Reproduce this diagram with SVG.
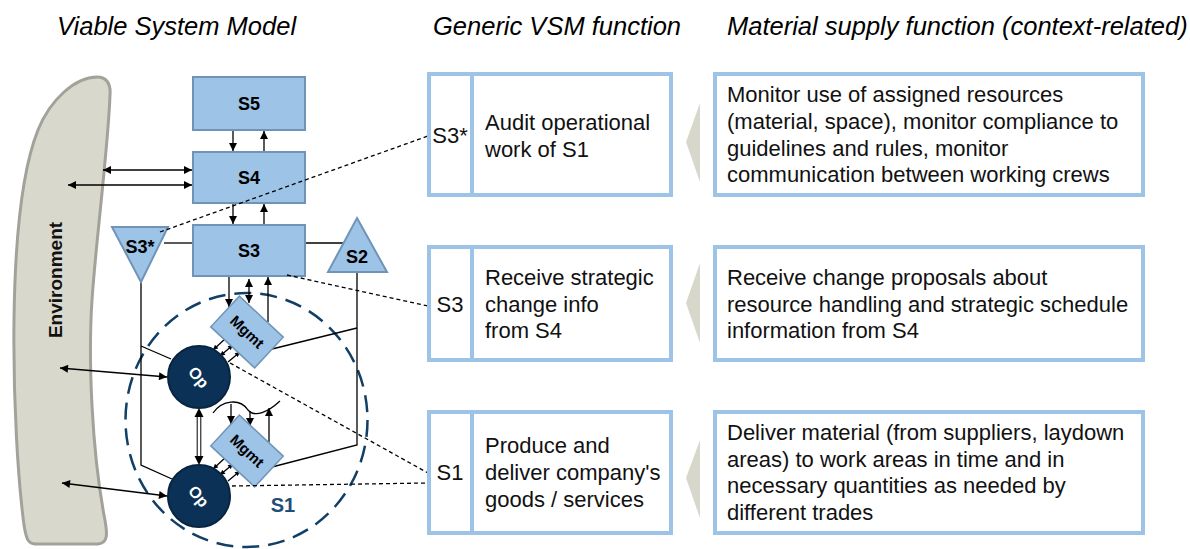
<svg xmlns="http://www.w3.org/2000/svg" width="1190" height="549" viewBox="0 0 1190 549">
<style>
.title{font-family:"Liberation Sans",Arial,sans-serif;font-style:italic;font-size:25.5px;fill:#000}
.txt{font-family:"Liberation Sans",Arial,sans-serif;font-size:22px;fill:#111}
.sbox{fill:#9dc3e6;stroke:#6f94b8;stroke-width:2}
.slab{font-family:"Liberation Sans",Arial,sans-serif;font-weight:bold;font-size:18px;fill:#000;text-anchor:middle}
.op{fill:#0b3256;stroke:#082540;stroke-width:2}
.optxt{font-family:"Liberation Sans",Arial,sans-serif;font-weight:bold;font-size:16px;fill:#fff;text-anchor:middle}
.mg{fill:#9dc3e6;stroke:#6f94b8;stroke-width:1.5}
.mgtxt{font-family:"Liberation Sans",Arial,sans-serif;font-weight:bold;font-size:15px;fill:#000;text-anchor:middle}
.fbox{fill:#fff;stroke:#9dc3e6;stroke-width:4}
.chev{fill:#d8d7cb}
.ln{stroke:#000;stroke-width:1.3;fill:none}
.thin{stroke:#000;stroke-width:1;fill:none}
.dash{stroke:#000;stroke-width:1.3;fill:none;stroke-dasharray:4 3}
.head{fill:#000}
</style>
<defs>
<marker id="ah" viewBox="0 0 10 10" refX="10" refY="5" markerWidth="9" markerHeight="8" orient="auto-start-reverse" markerUnits="userSpaceOnUse"><path d="M0,0 L10,5 L0,10 z" fill="#000"/></marker>
<marker id="as" viewBox="0 0 10 10" refX="10" refY="5" markerWidth="6" markerHeight="5" orient="auto-start-reverse" markerUnits="userSpaceOnUse"><path d="M0,0 L10,5 L0,10 z" fill="#000"/></marker>
</defs>
<rect width="1190" height="549" fill="#fff"/>

<g id="titles">
<text class="title" x="57" y="35">Viable System Model</text>
<text class="title" x="433" y="35">Generic VSM function</text>
<text class="title" x="727" y="35">Material supply function (context-related)</text>
</g>

<g id="environment">
<path d="M97 77 C106 77 111 83 110 95 C108 150 96 240 92 300 C88 360 92 450 104 515 C108 535 108 543 98 544 L35 544 C28 544 26 538 24 525 C18 480 13 400 14 320 C15 240 22 170 38 130 C50 100 75 77 97 77 Z" fill="#d9d8cd" stroke="#a3a29a" stroke-width="3"/>
<text transform="translate(62,280) rotate(-90)" font-family="Liberation Sans, Arial, sans-serif" font-weight="bold" font-size="19" text-anchor="middle" fill="#111">Environment</text>
</g>

<g id="s1-boundary">
<ellipse cx="246.5" cy="420" rx="121" ry="127" fill="none" stroke="#123f66" stroke-width="2.5" stroke-dasharray="17 9"/>
<text x="283" y="512" font-family="Liberation Sans, Arial, sans-serif" font-weight="bold" font-size="20" fill="#1f4e79" text-anchor="middle">S1</text>
</g>

<g id="connectors">
<line class="ln" x1="233" y1="131" x2="233" y2="151" marker-end="url(#ah)"/>
<line class="ln" x1="264" y1="151" x2="264" y2="131" marker-end="url(#ah)"/>
<line class="ln" x1="233" y1="204" x2="233" y2="224" marker-end="url(#ah)"/>
<line class="ln" x1="264" y1="224" x2="264" y2="204" marker-end="url(#ah)"/>
<line class="ln" x1="103" y1="170" x2="192" y2="170" marker-start="url(#ah)" marker-end="url(#ah)"/>
<line class="ln" x1="68" y1="185" x2="192" y2="185" marker-start="url(#ah)" marker-end="url(#ah)"/>
<line class="ln" x1="60" y1="368" x2="167" y2="377" marker-start="url(#ah)" marker-end="url(#ah)"/>
<line class="ln" x1="62" y1="483" x2="167" y2="496" marker-start="url(#ah)" marker-end="url(#ah)"/>
<line class="ln" x1="164" y1="243" x2="193" y2="243"/>
<line class="ln" x1="305" y1="243" x2="343" y2="243"/>
<polyline class="ln" points="141,282 141,465 172,479"/>
<line class="ln" x1="141" y1="346" x2="171" y2="359"/>
<polyline class="ln" points="357,272 357,445 272,467"/>
<line class="ln" x1="357" y1="328" x2="272" y2="349"/>
<line class="ln" x1="229" y1="277" x2="229" y2="307" marker-end="url(#ah)"/>
<line class="ln" x1="249" y1="279" x2="249" y2="303" marker-start="url(#ah)" marker-end="url(#ah)"/>
<line class="ln" x1="268" y1="322" x2="268" y2="277" marker-end="url(#ah)"/>
<line class="ln" x1="226" y1="338" x2="213" y2="350" marker-end="url(#as)"/>
<line class="ln" x1="220" y1="356" x2="233" y2="345" marker-start="url(#as)" marker-end="url(#as)"/>
<line class="ln" x1="228" y1="362" x2="240" y2="352" marker-end="url(#as)"/>
<line class="ln" x1="226" y1="457" x2="213" y2="469" marker-end="url(#as)"/>
<line class="ln" x1="220" y1="475" x2="233" y2="464" marker-start="url(#as)" marker-end="url(#as)"/>
<line class="ln" x1="228" y1="481" x2="240" y2="471" marker-end="url(#as)"/>
<line class="thin" x1="197.2" y1="416" x2="197.2" y2="457"/>
<line class="thin" x1="200.8" y1="416" x2="200.8" y2="457"/>
<polygon class="head" points="199,408 194.5,417 203.5,417"/>
<polygon class="head" points="199,465 194.5,456 203.5,456"/>
<path class="ln" d="M213 413 C222 400 240 398 248 410 C255 418 268 412 280 401"/>
<line class="ln" x1="231" y1="404" x2="231" y2="424" marker-end="url(#ah)"/>
<line class="ln" x1="250" y1="411" x2="250" y2="426" marker-end="url(#ah)"/>
<line class="ln" x1="269" y1="442" x2="269" y2="408" marker-end="url(#ah)"/>
</g>

<g id="s5"><rect class="sbox" x="193" y="77" width="112" height="53"/><text class="slab" x="249" y="110">S5</text></g>
<g id="s4"><rect class="sbox" x="193" y="152" width="112" height="51"/><text class="slab" x="249" y="184">S4</text></g>
<g id="s3"><rect class="sbox" x="193" y="225" width="112" height="51"/><text class="slab" x="249" y="257">S3</text></g>
<g id="s3star"><polygon class="sbox" points="112,227 168,227 141,282"/><text class="slab" x="140" y="253">S3*</text></g>
<g id="s2"><polygon class="sbox" points="357,218 387,272 328,272"/><text class="slab" x="357" y="263">S2</text></g>

<g id="mgmt1"><rect class="mg" x="-30" y="-21" width="60" height="42" transform="translate(247,332) rotate(43)"/><text class="mgtxt" transform="translate(247,332) rotate(43)" dy="5">Mgmt</text></g>
<g id="mgmt2"><rect class="mg" x="-30" y="-21" width="60" height="42" transform="translate(247,451) rotate(43)"/><text class="mgtxt" transform="translate(247,451) rotate(43)" dy="5">Mgmt</text></g>
<g id="op1"><circle class="op" cx="199" cy="377" r="31"/><text class="optxt" transform="translate(199,377) rotate(50)" dy="6">Op</text></g>
<g id="op2"><circle class="op" cx="199" cy="496" r="31"/><text class="optxt" transform="translate(199,496) rotate(50)" dy="6">Op</text></g>

<g id="dashed-links">
<line class="dash" x1="160" y1="232" x2="428" y2="136"/>
<line class="dash" x1="287" y1="275" x2="428" y2="306"/>
<line class="dash" x1="230" y1="363" x2="428" y2="473"/>
<line class="dash" x1="232" y1="486" x2="428" y2="483"/>
</g>

<g id="generic-s3star">
<rect class="fbox" x="429" y="74" width="242" height="121"/>
<line x1="472" y1="74" x2="472" y2="195" stroke="#9dc3e6" stroke-width="4"/>
<text class="txt" x="450" y="143" text-anchor="middle">S3*</text>
<text class="txt" x="485" y="130">Audit operational</text>
<text class="txt" x="485" y="157">work of S1</text>
</g>
<g id="generic-s3">
<rect class="fbox" x="429" y="247" width="242" height="113"/>
<line x1="472" y1="247" x2="472" y2="360" stroke="#9dc3e6" stroke-width="4"/>
<text class="txt" x="450" y="312" text-anchor="middle">S3</text>
<text class="txt" x="485" y="285">Receive strategic</text>
<text class="txt" x="485" y="312">change info</text>
<text class="txt" x="485" y="338">from S4</text>
</g>
<g id="generic-s1">
<rect class="fbox" x="429" y="412" width="242" height="121"/>
<line x1="472" y1="412" x2="472" y2="533" stroke="#9dc3e6" stroke-width="4"/>
<text class="txt" x="450" y="480" text-anchor="middle">S1</text>
<text class="txt" x="485" y="453">Produce and</text>
<text class="txt" x="485" y="480">deliver company's</text>
<text class="txt" x="485" y="507">goods / services</text>
</g>

<g id="chevrons">
<polygon class="chev" points="700,103 686,142 700,182"/>
<polygon class="chev" points="700,263 686,303 700,343"/>
<polygon class="chev" points="700,440 686,478 700,518"/>
</g>

<g id="material-s3star">
<rect class="fbox" x="715" y="74" width="428" height="121"/>
<text class="txt" x="727" y="102">Monitor use of assigned resources</text>
<text class="txt" x="727" y="129">(material, space), monitor compliance to</text>
<text class="txt" x="727" y="156">guidelines and rules, monitor</text>
<text class="txt" x="727" y="182">communication between working crews</text>
</g>
<g id="material-s3">
<rect class="fbox" x="715" y="247" width="428" height="113"/>
<text class="txt" x="727" y="285">Receive change proposals about</text>
<text class="txt" x="727" y="312">resource handling and strategic schedule</text>
<text class="txt" x="727" y="338">information from S4</text>
</g>
<g id="material-s1">
<rect class="fbox" x="715" y="412" width="428" height="121"/>
<text class="txt" x="727" y="440">Deliver material (from suppliers, laydown</text>
<text class="txt" x="727" y="467">areas) to work areas in time and in</text>
<text class="txt" x="727" y="493">necessary quantities as needed by</text>
<text class="txt" x="727" y="520">different trades</text>
</g>
</svg>
